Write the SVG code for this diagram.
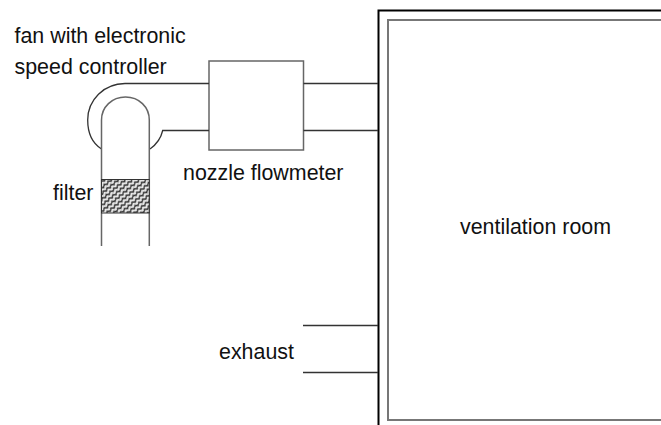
<svg xmlns="http://www.w3.org/2000/svg" width="661" height="425" viewBox="0 0 661 425">
<style>
.l{fill:none;stroke:#333;stroke-width:1.3}
.g{fill:none;stroke:#666;stroke-width:1.5}
text{font-family:"Liberation Sans",Arial,sans-serif;font-size:21.400px;fill:#111}
</style>
<defs>
<pattern id="h" width="5" height="4.500" patternUnits="userSpaceOnUse" patternTransform="rotate(-40)">
<rect width="5" height="4.500" fill="#e8e8e8"/>
<path d="M0 2.250L1.250 1.250L3.750 3.250L5 2.250" fill="none" stroke="#333" stroke-width="1.500"/>
</pattern>
</defs>
<rect width="661" height="425" fill="#fff"/>
<g id="room">
<path d="M378.500 425V10.500H661" fill="none" stroke="#000" stroke-width="2"/>
<path d="M661 20H388V420H661" fill="none" stroke="#777" stroke-width="2"/>
<text x="460" y="233.500">ventilation room</text>
</g>
<g id="nozzle">
<rect x="209" y="61" width="94.500" height="89" class="g" fill="none"/>
<text x="183" y="180">nozzle flowmeter</text>
</g>
<g id="fan">
<path class="l" d="M101.500 149C92 143 87.700 132 87.700 120C87.700 100 104 83.500 125 83.500H209"/>
<path class="l" d="M150 149C157 144 161 138 162.700 130.500H209"/>
<text x="14.500" y="43">fan with electronic</text>
<text x="14.500" y="74">speed controller</text>
</g>
<g id="filter">
<path class="g" d="M101.500 246V120C101.500 107 112 97 125.500 97C139 97 149.300 107 149.300 120V246"/>
<rect x="101.500" y="179.500" width="47.800" height="33.500" fill="url(#h)" stroke="#333" stroke-width="1"/>
<text x="53" y="200">filter</text>
</g>
<g id="connectors">
<path class="l" d="M303.500 83.500H378M303.500 130.500H378M303 325.500H378M303 372.500H378"/>
</g>
<g id="exhaust">
<text x="219" y="358.500">exhaust</text>
</g>
</svg>
